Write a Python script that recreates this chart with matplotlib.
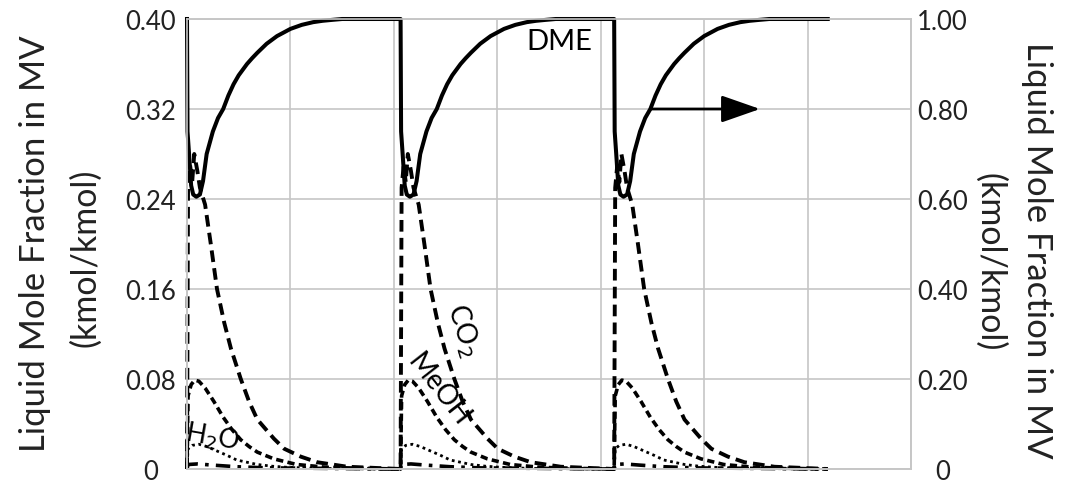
import numpy as np
import matplotlib
matplotlib.use("Agg")
import matplotlib.pyplot as plt

plt.rcParams['font.family'] = ['Lato', 'DejaVu Sans']

# ---------- one cycle of the moving-vessel liquid composition (time in grid units) ----------
period = 2.065
n_cycles = 3

dme_t = [0, 0.005, 0.02, 0.04, 0.06, 0.09, 0.125, 0.155, 0.19, 0.22, 0.25, 0.30, 0.35,
         0.40, 0.45, 0.50, 0.58, 0.63, 0.68, 0.77, 0.87, 1.0, 1.11, 1.22, 1.31, 1.4, 1.5, 2.065]
dme_x = [1.0, 0.75, 0.70, 0.63, 0.61, 0.605, 0.61, 0.64, 0.70, 0.725, 0.75, 0.78, 0.80,
         0.83, 0.855, 0.875, 0.90, 0.913, 0.925, 0.945, 0.962, 0.978, 0.987, 0.993, 0.996,
         0.998, 1.0, 1.0]

co2_t = [0, 0.01, 0.03, 0.05, 0.07, 0.10, 0.125, 0.175, 0.23, 0.29, 0.36, 0.425,
         0.52, 0.60, 0.68, 0.84, 0.94, 1.10, 1.26, 1.55, 2.065]
co2_x = [0.0, 0.25, 0.27, 0.255, 0.28, 0.265, 0.25, 0.235, 0.20, 0.16, 0.13, 0.107,
         0.08, 0.06, 0.044, 0.027, 0.018, 0.011, 0.006, 0.002, 0.0]

meoh_t = [0, 0.01, 0.04, 0.075, 0.115, 0.175, 0.26, 0.35, 0.435, 0.52, 0.60, 0.68,
          0.84, 1.06, 1.35, 1.74, 2.065]
meoh_x = [0.0, 0.065, 0.075, 0.079, 0.078, 0.072, 0.06, 0.046, 0.035, 0.026, 0.02, 0.015,
          0.009, 0.004, 0.0015, 0.0005, 0.0]

h2o_t = [0, 0.01, 0.05, 0.115, 0.19, 0.29, 0.39, 0.48, 0.58, 0.68, 0.82, 0.97, 1.26, 2.065]
h2o_x = [0.0, 0.018, 0.021, 0.022, 0.02, 0.016, 0.012, 0.008, 0.006, 0.004, 0.0025,
         0.0015, 0.0005, 0.0]

other_t = [0, 0.01, 0.10, 0.24, 0.48, 0.77, 2.065]
other_x = [0.0, 0.004, 0.0045, 0.0035, 0.002, 0.001, 0.0]

left_ticks = [0, 0.08, 0.16, 0.24, 0.32, 0.40]
left_labels = ['0', '0.08', '0.16', '0.24', '0.32', '0.40']
right_ticks = [0, 0.2, 0.4, 0.6, 0.8, 1.0]
right_labels = ['0', '0.20', '0.40', '0.60', '0.80', '1.00']


def repeat_cycles(t, x):
    tt = np.concatenate([np.array(t) + k * period for k in range(n_cycles)])
    xx = np.concatenate([np.array(x) for k in range(n_cycles)])
    return tt, xx


fig = plt.figure(figsize=(10.69, 4.85), dpi=100)
ax = fig.add_axes([187 / 1069, 15 / 485, (911 - 187) / 1069, 450 / 485])
ax2 = ax.twinx()

grid_c = '#c6c6c6'
ax.set_xlim(0, 7)
ax.set_ylim(0, 0.40)
ax2.set_ylim(0, 1.0)
ax.set_xticks(range(8))
ax.set_yticks(left_ticks)
ax.set_yticklabels(left_labels)
ax2.set_yticks(right_ticks)
ax2.set_yticklabels(right_labels)
ax.grid(True, color=grid_c, lw=1.2)
ax.set_axisbelow(True)
ax.tick_params(axis='x', length=0, labelbottom=False)
ax.tick_params(axis='y', length=0, pad=26.5, labelsize=18.5)
ax2.tick_params(axis='y', length=0, pad=22.5, labelsize=18.5)
for a in (ax, ax2):
    for s in a.spines.values():
        s.set_color(grid_c)
        s.set_linewidth(1.2)
for lbl in ax.get_yticklabels() + ax2.get_yticklabels():
    lbl.set_ha('center')
    lbl.set_color('#222222')

# ---------- left-axis species ----------
t, x = repeat_cycles(co2_t, co2_x)
ax.plot(t, x, color='black', lw=2.8, dashes=(3.0, 1.6), clip_on=False)
t, x = repeat_cycles(meoh_t, meoh_x)
ax.plot(t, x, color='black', lw=2.6, dashes=(2.0, 1.2), clip_on=False)
t, x = repeat_cycles(h2o_t, h2o_x)
ax.plot(t, x, color='black', lw=2.0, dashes=(1.0, 1.3), clip_on=False)
t, x = repeat_cycles(other_t, other_x)
ax.plot(t, x, color='black', lw=2.6, dashes=(4, 2, 1, 2), clip_on=False)

# ---------- DME on the right axis ----------
t, x = repeat_cycles(dme_t, dme_x)
ax2.plot(t, x, color='black', lw=2.9, clip_on=False, solid_joinstyle='round')

ax2.annotate('', xy=(5.54, 0.80), xytext=(period * 2 + 0.35, 0.80),
             arrowprops=dict(arrowstyle='-|>,head_length=1.2,head_width=0.42',
                             mutation_scale=20, lw=2, color='black',
                             shrinkA=0, shrinkB=0))

# ---------- species labels ----------
ax.text(3.60, 0.380, 'DME', fontsize=21, ha='center', va='center')
ax.text(2.67, 0.124, 'CO$_2$', fontsize=20, ha='center', va='center', rotation=-73)
ax.text(2.43, 0.071, 'MeOH', fontsize=20, ha='center', va='center', rotation=-52)
ax.text(0.25, 0.029, 'H$_2$O', fontsize=19, ha='center', va='center', rotation=-10)

# ---------- axis titles ----------
fig.text(35 / 1069, 1 - 244 / 485, 'Liquid Mole Fraction in MV', rotation=90,
         fontsize=25, ha='center', va='center', color='#222222')
fig.text(85 / 1069, 1 - 258 / 485, '(kmol/kmol)', rotation=90,
         fontsize=24.5, ha='center', va='center', color='#222222')
fig.text(1037 / 1069, 1 - 250 / 485, 'Liquid Mole Fraction in MV', rotation=270,
         fontsize=25, ha='center', va='center', color='#222222')
fig.text(990 / 1069, 1 - 262 / 485, '(kmol/kmol)', rotation=270,
         fontsize=24.5, ha='center', va='center', color='#222222')

fig.savefig('out.png', dpi=100)
